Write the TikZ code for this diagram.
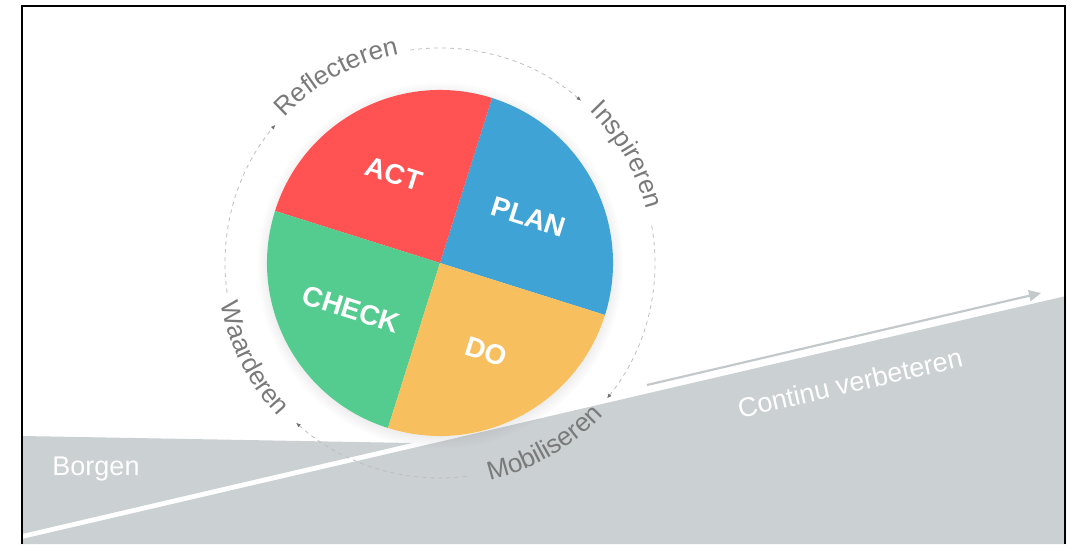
\documentclass[tikz,border=0pt]{standalone}
\usepackage{fontspec}
\setmainfont{Liberation Sans}
\usepackage{xcolor}
\usetikzlibrary{arrows.meta}
\usetikzlibrary{calc}
\usetikzlibrary{decorations.text}
\usetikzlibrary{fadings}
\usetikzlibrary{shadows}

\definecolor{actred}{HTML}{FF5252}
\definecolor{planblue}{HTML}{3FA3D6}
\definecolor{checkgreen}{HTML}{55CC8F}
\definecolor{doyellow}{HTML}{F8BF5E}
\definecolor{groundgray}{HTML}{CBD0D3}
\definecolor{arrowgray}{HTML}{C3C8CB}
\definecolor{ringgray}{HTML}{7A7A7A}
\definecolor{ringdash}{HTML}{BDBDBD}
\definecolor{ringtip}{HTML}{6E6E6E}

\newcommand{\ringfont}{\fontsize{26}{26}\selectfont}

\begin{document}
\begin{tikzpicture}
[
	x = 1pt, y = 1pt,
	pielabel/.style	= {text = white, font = \fontsize{28}{28}\selectfont\bfseries, rotate = -17.5, inner sep = 0pt},
	groundlabel/.style	= {text = white, font = \fontsize{27}{27}\selectfont, inner sep = 0pt},
	ringarc/.style	= {draw = ringdash, line width = 0.8pt, dash pattern = on 4pt off 4pt, -{Latex[length = 4.5pt, width = 4pt, color = ringtip]}},
	ringtext/.style	= {decorate, decoration = {text along path, text align = center, text = {#1}}},
	cvarrow/.style	= {draw = arrowgray, line width = 2.2pt, -{Triangle[length = 12pt, width = 11pt]}},
]

	\useasboundingbox (0,0) rectangle (1071,544);

	% ground
	\fill [groundgray] (22,5) -- (1066,248) -- (1066,0) -- (22,0) -- cycle;
	\fill [groundgray] (22,108) -- (412,101) -- (22,10) -- cycle;

	\coordinate (cvstart) at (647,159);
	\coordinate (cvend) at (1041,251);
	\draw [cvarrow] (cvstart) -- (cvend);

	\node (borgen) [groundlabel] at (96,75) {Borgen};
	\node (continu) [groundlabel, rotate = 13] at (850,161) {Continu verbeteren};

	% wheel
	\coordinate (c) at (440,281);
	\node (pie) [circle, minimum size = 346pt, inner sep = 0pt, fill = white,
		circular drop shadow = {shadow xshift = 0pt, shadow yshift = -2pt, shadow scale = 1.06, opacity = 0.3}] at (c) {};

	\fill [planblue] (c) -- ($(c)+(-17.5:173pt)$) arc [start angle = -17.5, end angle = 72.5, radius = 173pt] -- cycle;
	\fill [actred] (c) -- ($(c)+(72.5:173pt)$) arc [start angle = 72.5, end angle = 162.5, radius = 173pt] -- cycle;
	\fill [checkgreen] (c) -- ($(c)+(162.5:173pt)$) arc [start angle = 162.5, end angle = 252.5, radius = 173pt] -- cycle;
	\fill [doyellow] (c) -- ($(c)+(252.5:173pt)$) arc [start angle = 252.5, end angle = 342.5, radius = 173pt] -- cycle;

	\node (plan) [pielabel] at ($(c)+(27.5:100pt)$) {PLAN};
	\node (act) [pielabel] at ($(c)+(117.5:100pt)$) {ACT};
	\node (check) [pielabel] at ($(c)+(207.5:100pt)$) {CHECK};
	\node (do) [pielabel] at ($(c)+(297.5:100pt)$) {DO};

	% ring
	\draw [ringarc] ($(c)+(188:215pt)$) arc [start angle = 188, end angle = 140, radius = 215pt];
	\draw [ringarc] ($(c)+(98:215pt)$) arc [start angle = 98, end angle = 49, radius = 215pt];
	\draw [ringarc] ($(c)+(10:215pt)$) arc [start angle = 10, end angle = -39, radius = 215pt];
	\draw [ringarc] ($(c)+(-83:215pt)$) arc [start angle = -83, end angle = -132, radius = 215pt];

	\path [ringtext = {|\ringfont\color{ringgray}|Reflecteren}] ($(c)+(142:213pt)$) arc [start angle = 142, end angle = 96, radius = 213pt];
	\path [ringtext = {|\ringfont\color{ringgray}|Inspireren}] ($(c)+(52:213pt)$) arc [start angle = 52, end angle = 8, radius = 213pt];
	\path [ringtext = {|\ringfont\color{ringgray}|Mobiliseren}] ($(c)+(-85:223pt)$) arc [start angle = -85, end angle = -35, radius = 223pt];
	\path [ringtext = {|\ringfont\color{ringgray}|Waarderen}] ($(c)+(-179:223pt)$) arc [start angle = -179, end angle = -127, radius = 223pt];

	% frame
	\draw [line width = 2pt] (22,0) -- (22,538) -- (1065,538) -- (1065,0);

\end{tikzpicture}
\end{document}
